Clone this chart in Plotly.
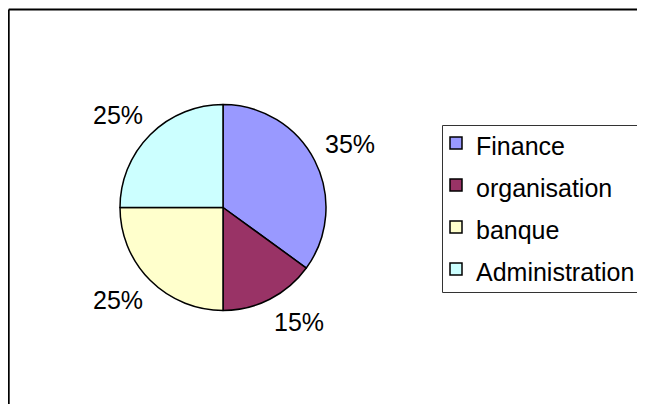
import math
import plotly.graph_objects as go

# ---- data ----
categories = ["Finance", "organisation", "banque", "Administration"]
values = [35, 15, 25, 25]
colors = ["#9999FF", "#993366", "#FFFFCC", "#CCFFFF"]

# page has an 8px body margin, so the figure is drawn 8px in from the window edges
OFF = 8
W, H = 645 - OFF, 404 - OFF
FONT = "Liberation Sans, Arial, sans-serif"


def px_x(p):
    return (p - OFF) / W


def px_y(p):
    return 1 - (p - OFF) / H


# pie centred at (223, 207.5) window px with radius 103 px
cx, cy, r = 223, 207.5, 103
label_r = 117  # radius at which the near corner of each label sits

legend_labels = ['<span style="font-size:25px">%s</span>' % c for c in categories]

fig = go.Figure(
    go.Pie(
        labels=legend_labels,
        values=values,
        sort=False,
        direction="clockwise",
        rotation=0,
        marker=dict(colors=colors, line=dict(color="black", width=1.5)),
        textinfo="none",
        hoverinfo="skip",
        domain=dict(x=[px_x(cx - r), px_x(cx + r)], y=[px_y(cy + r), px_y(cy - r)]),
        showlegend=True,
    )
)

# percentage labels placed outside each slice (Excel "best fit" style)
total = sum(values)
annotations = []
cum = 0
for v in values:
    frac_mid = (cum + v / 2) / total
    cum += v
    theta = 2 * math.pi * frac_mid  # clockwise from 12 o'clock
    sx, cy_dir = math.sin(theta), math.cos(theta)
    px = cx + label_r * sx
    py = cy - label_r * cy_dir
    right = sx >= 0
    upper = cy_dir >= 0
    annotations.append(dict(
        x=px_x(px), y=px_y(py), xref="paper", yref="paper",
        text="%d%%" % round(100 * v / total),
        showarrow=False,
        xanchor="left" if right else "right",
        yanchor="bottom" if upper else "top",
        xshift=-4 if right else 5,
        yshift=-6 if upper else 6,
        font=dict(family=FONT, size=25, color="black"),
    ))

shapes = [
    # chart frame (top and left edges visible)
    dict(type="line", xref="paper", yref="paper", x0=px_x(8.7), x1=1.05, y0=px_y(9.5), y1=px_y(9.5),
         line=dict(color="black", width=2)),
    dict(type="line", xref="paper", yref="paper", x0=px_x(8.7), x1=px_x(8.7), y0=px_y(9.5), y1=-0.05,
         line=dict(color="black", width=2)),
    # legend box
    dict(type="rect", xref="paper", yref="paper", x0=px_x(442.5), x1=1.05, y0=px_y(292.5), y1=px_y(125.5),
         line=dict(color="#333333", width=1)),
]

fig.update_layout(
    width=W,
    height=H,
    margin=dict(l=0, r=0, t=0, b=0),
    paper_bgcolor="white",
    plot_bgcolor="white",
    font=dict(family=FONT, size=25, color="black"),
    shapes=shapes,
    annotations=annotations,
    legend=dict(
        x=px_x(436), xanchor="left",
        y=px_y(117), yanchor="top",
        font=dict(family=FONT, size=30, color="black"),
        bgcolor="rgba(0,0,0,0)",
        borderwidth=0,
        traceorder="normal",
    ),
)

fig.write_html("out.html")
